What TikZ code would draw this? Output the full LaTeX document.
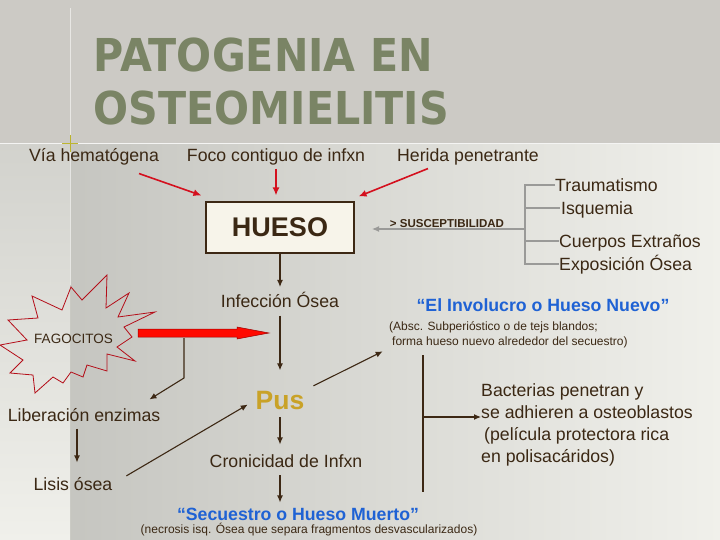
\documentclass[tikz,border=0pt]{standalone}
\usepackage{fontspec}
\setmainfont{Liberation Sans}
\newfontfamily\titlefont[FakeStretch=0.91]{DejaVu Sans}
\usetikzlibrary{arrows.meta,calc}
\definecolor{txtc}{HTML}{3B2814}
\definecolor{linec}{HTML}{3D2814}
\definecolor{redc}{HTML}{D4101E}
\definecolor{bluec}{HTML}{1F62D4}
\definecolor{goldc}{HTML}{C9A227}
\definecolor{titc}{HTML}{7A8465}
\definecolor{boxc}{HTML}{F7F4EA}
\definecolor{grayl}{HTML}{9A9A98}
\newcommand\fsz[2]{\fontsize{#1}{#2}\selectfont}
\begin{document}
\begin{tikzpicture}[x=1pt,y=-1pt,
  lbl/.style={inner sep=0pt, text=txtc, font=\fsz{17.7}{22}, text height=12.7pt, text depth=0pt},
  blk/.style={inner sep=0pt, text=txtc, font=\fsz{17.7}{22}, align=left, anchor=north west},
  small/.style={inner sep=0pt, text=txtc, font=\fsz{12}{15}, align=left},
  bluet/.style={inner sep=0pt, text=bluec, font=\fsz{17.7}{22}\bfseries, text height=12.7pt, text depth=0pt},
  arr/.style={draw=linec, line width=1.1pt, -{Latex[length=7pt,width=6pt]}},
  redarr/.style={draw=redc, line width=1.6pt, -{Latex[length=8pt,width=7pt]}},
  brk/.style={draw=grayl, line width=1.1pt},
  tit/.style={inner sep=0pt, anchor=base west, text=titc, font=\titlefont\bfseries\fsz{45.3}{50}}
]
\useasboundingbox (0,0) rectangle (720,540);
% background
\shade[left color=black!23!white!98!yellow, right color=black!6!white!98!yellow] (70,143) rectangle (720,540);
\shade[top color=black!18!white!98!yellow, bottom color=black!6!white!98!yellow] (0,143) rectangle (70,540);
\fill[black!24!white!97!yellow] (0,0) rectangle (720,144);
\draw[white, opacity=0.8, line width=1pt] (0,143.5) -- (720,143.5);
\draw[white, opacity=0.55, line width=1pt] (70,8) -- (70,285);
\draw[olive!70!yellow, line width=1pt, opacity=0.8] (62,143.5) -- (78,143.5) (70,135) -- (70,152);
% title
\node[tit] (t1) at (93.5,72) {PATOGENIA EN};
\node[tit] (t2) at (93.5,125) {OSTEOMIELITIS};
% top row
\node[lbl] (via) at (94,155) {Vía hematógena};
\node[lbl] (foco) at (276,155) {Foco contiguo de infxn};
\node[lbl] (herida) at (468,155) {Herida penetrante};
% hueso
\node[draw=linec, line width=1.1pt, fill=boxc, minimum width=148pt, minimum height=51pt,
      inner sep=0pt, text=txtc, font=\fsz{27}{30}\bfseries] (hueso) at (280,227.5) {HUESO};
\draw[redarr] ([xshift=45pt,yshift=-12pt]via.south) -- ([xshift=-4pt,yshift=6pt]hueso.north west);
\draw[redarr, shorten <=7pt] (foco.south) -- ([yshift=6pt]foco.south |- hueso.north);
\draw[redarr] ([xshift=-40pt,yshift=-7pt]herida.south) -- ([xshift=4pt,yshift=5pt]hueso.north east);
% bracket
\coordinate (bk) at (525,229);
\node[lbl, anchor=west] (trauma) at (555,185) {Traumatismo};
\node[lbl, anchor=west] (isq) at (561,208) {Isquemia};
\node[lbl, anchor=west] (cuer) at (559,241) {Cuerpos Extraños};
\node[lbl, anchor=west] (expo) at (559,264) {Exposición Ósea};
\draw[brk] (trauma.west) -- (trauma.west -| bk) -- (expo.west -| bk) -- (expo.west);
\draw[brk] (isq.west -| bk) -- ([xshift=-1pt]isq.west);
\draw[brk] (cuer.west -| bk) -- (cuer.west);
\draw[brk, -{Latex[length=7pt,width=6pt]}] (bk) -- (372,229);
\node[inner sep=0pt, text=txtc, font=\fsz{11.5}{14}\bfseries] (susc) at (447,223.5) {> SUSCEPTIBILIDAD};
% center column
\node[lbl] (infec) at (280,301) {Infección Ósea};
\draw[arr, shorten >=7.5pt] (hueso.south) -- (infec.north);
\node[inner sep=0pt, text=goldc, font=\fsz{26.5}{30}\bfseries, text height=19pt, text depth=0pt] (pus) at (280,400) {Pus};
\draw[arr, shorten <=8pt, shorten >=20pt] (infec.south) -- (pus.north);
\node[lbl] (cron) at (286,461) {Cronicidad de Infxn};
\draw[arr, shorten <=7.5pt, shorten >=10pt] (pus.south) -- (pus.south |- cron.north);
\node[bluet] (secu) at (298,514) {“Secuestro o Hueso Muerto”};
\draw[arr, shorten <=7.5pt, shorten >=5pt] (pus.south |- cron.south) -- (pus.south |- secu.north);
\node[small, anchor=base] (secusub) at (309,533) {(necrosis isq. Ósea que separa fragmentos desvascularizados)};
% involucro
\node[bluet] (invol) at (543,305) {“El Involucro o Hueso Nuevo”};
\node[small, anchor=north west] (invsub) at (389,321.5) {(Absc. Subperióstico o de tejs blandos;\\\hspace*{3pt}forma hueso nuevo alrededor del secuestro)};
\draw[arr, shorten <=10pt, shorten >=7pt] (pus.north east) -- (invsub.south west);
% bacterias
\node[blk] (bact) at (481,383) {Bacterias penetran y\\se adhieren a osteoblastos\\\hspace*{3pt}(película protectora rica\\en polisacáridos)};
\coordinate (vtop) at (423,355);
\coordinate (vbot) at (423,492);
\coordinate (vmid) at (423,417);
\draw[draw=linec, line width=1.1pt] (vtop) -- (vbot);
\draw[arr] (vmid) -- (bact.west |- vmid);
% fagocitos
\draw[draw=redc!85!black, line width=0.8pt] (107,275)--(106,308)--(129,293)--(118,317)--(155,312)--(124,327)--(132,337)--(117,347)--(135,361)--(107,354)--(107,371)--(87,365)--(83,377)--(71,372)--(63,383)--(53,377)--(35,393)--(33,375)--(10,373)--(23,360)--(0,345)--(27,340)--(8,320)--(38,318)--(32,296)--(62,310)--(71,287)--(82,300)--cycle;
\node[inner sep=0pt, text=txtc, font=\fsz{13.5}{16}] (fago) at (73.5,339) {FAGOCITOS};
\coordinate (bigtail) at (138,333);
\fill[fill=red!92!orange, draw=red!60!black, line width=0.5pt] (bigtail) ++(0,-4) -- (237,329) -- (237,327) -- (269,333) -- (237,339) -- (237,337) -- (138,337) -- cycle;
\node[lbl] (lib) at (84,415) {Liberación enzimas};
\node[lbl] (lisis) at (73,484) {Lisis ósea};
\coordinate (drop) at (184,338);
\draw[arr] (drop) -- (184,378) -- ([xshift=-11pt,yshift=9pt]lib.north east);
\draw[arr, shorten <=7pt, shorten >=15pt] ([xshift=-7pt]lib.south) -- ([xshift=-7pt]lib.south |- lisis.north);
\draw[arr, shorten <=16pt, shorten >=9pt] (lisis.east) -- (pus.west);
\end{tikzpicture}
\end{document}
